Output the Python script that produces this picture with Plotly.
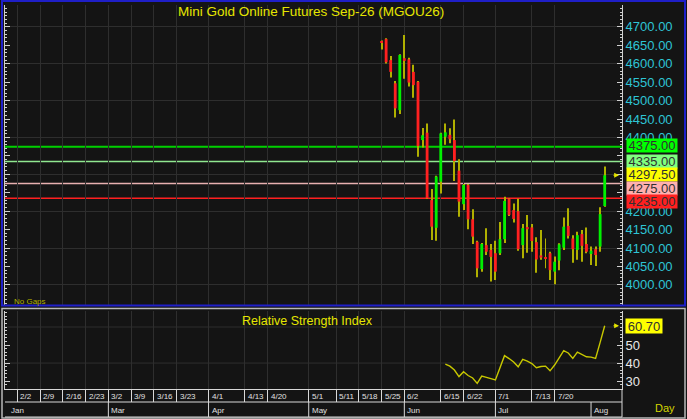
import pandas as pd
import plotly.graph_objects as go

# session calendar (x axis slots, "No Gaps" mode)
first_day = "2026-01-28"
last_day = "2026-08-14"
closed_days = ["2026-06-01", "2026-06-12", "2026-07-24", "2026-07-31"]

# daily OHLC, first bar on candle_start
candle_start = "2026-05-25"
opens = [4660, 4667, 4610, 4547, 4474, 4615, 4612, 4578, 4551, 4393,
         4413, 4230, 4155, 4280, 4402, 4407, 4393, 4310, 4219, 4271,
         4178, 4117, 4043, 4108, 4095, 4086, 4086, 4124, 4234, 4203,
         4200, 4108, 4157, 4156, 4116, 4080, 4075, 4086, 4036, 4066,
         4101, 4160, 4126, 4095, 4138, 4111, 4084, 4097, 4104, 4214]
highs = [4663, 4669, 4621, 4553, 4626, 4678, 4616, 4597, 4553, 4426,
         4438, 4260, 4296, 4413, 4438, 4425, 4449, 4341, 4274, 4274,
         4205, 4120, 4114, 4154, 4111, 4120, 4171, 4239, 4236, 4221,
         4234, 4165, 4190, 4165, 4129, 4149, 4126, 4090, 4077, 4113,
         4183, 4208, 4135, 4144, 4149, 4156, 4104, 4104, 4211, 4321]
lows = [4639, 4601, 4563, 4454, 4464, 4559, 4538, 4508, 4348, 4373,
        4233, 4122, 4120, 4248, 4380, 4384, 4282, 4185, 4203, 4151,
        4111, 4021, 4036, 4081, 4009, 4013, 4081, 4114, 4187, 4169,
        4093, 4072, 4087, 4090, 4033, 4068, 4045, 4013, 4002, 4040,
        4095, 4126, 4060, 4068, 4063, 4086, 4054, 4051, 4090, 4212]
closes = [4657, 4604, 4578, 4479, 4624, 4608, 4549, 4542, 4377, 4406,
          4235, 4158, 4294, 4411, 4414, 4395, 4336, 4226, 4271, 4178,
          4131, 4045, 4111, 4090, 4076, 4036, 4124, 4228, 4190, 4179,
          4097, 4154, 4151, 4119, 4069, 4074, 4072, 4040, 4063, 4110,
          4158, 4133, 4097, 4135, 4106, 4090, 4093, 4081, 4192, 4297.5]

# RSI for the last bars
rsi = [39.4, 38.3, 36.1, 32.5, 35.2, 33.1, 31.7, 28.7, 32.8, 31.9,
       31.4, 30.6, 37.2, 44.1, 42.5, 40.6, 37.9, 42.1, 41.1, 39.7,
       37.4, 38.1, 38.3, 35.7, 38.9, 42.8, 46.9, 45.6, 42.6, 46.1,
       44.6, 43.5, 43.3, 42.6, 51.5, 60.7]

levels = [4375, 4335, 4275, 4235]

price_ticks = list(range(4000, 4701, 50))
rsi_ticks = [30, 40, 50]
week_ticks = ["2026-02-02", "2026-02-09", "2026-02-16", "2026-02-23", "2026-03-02",
              "2026-03-09", "2026-03-16", "2026-03-23", "2026-04-01", "2026-04-13",
              "2026-04-20", "2026-05-01", "2026-05-11", "2026-05-18", "2026-05-25",
              "2026-06-02", "2026-06-15", "2026-06-22", "2026-07-01", "2026-07-13",
              "2026-07-20"]
month_ticks = ["2026-01-29", "2026-03-02", "2026-04-01", "2026-05-01",
               "2026-06-02", "2026-07-01", "2026-08-03"]
month_names = ["Jan", "Mar", "Apr", "May", "Jun", "Jul", "Aug"]

# ---- styles
W, H = 687, 419
ML, MR, MT, MB = 5, 65, 5, 30
FONT = "Liberation Sans, Arial, sans-serif"
bg = "#141414"
grid = "#2e2e2e"
up, down, wick = "#00f000", "#ff2020", "#b0b000"
level_line = ["#00d000", "#90e890", "#e8b0b0", "#ff2020"]
level_width = [2, 1.5, 1.5, 1.5]
level_box = ["#00ff00", "#80ff80", "#ffb0b0", "#ff2020"]
yellow = "#e6e600"
white = "#d8d8d8"


def fx(px):
    return (px - ML) / (W - ML - MR)


def fy(py):
    return (H - MB - py) / (H - MT - MB)


sessions = [d.strftime("%Y-%m-%d") for d in pd.bdate_range(first_day, last_day)
            if d.strftime("%Y-%m-%d") not in closed_days]
i0 = sessions.index(candle_start)
dates = sessions[i0:i0 + len(opens)]
rsi_dates = dates[-len(rsi):]
xr = [0.3, 135.8]
price_range = [3945.5, 4759.4]
rsi_range = [25.6, 68.9]

fig = go.Figure()
# wicks on the grid axis, bodies on the overlaid label axis (drawn on top)
fig.add_trace(go.Bar(
    x=dates, y=[h - l for h, l in zip(highs, lows)], base=lows, width=0.22,
    marker=dict(color=wick, line_width=0), hoverinfo="skip"))
fig.add_trace(go.Bar(
    x=dates, y=[max(abs(c - o), 1) for o, c in zip(opens, closes)],
    base=[min(o, c) for o, c in zip(opens, closes)], width=0.62,
    marker=dict(color=[up if c >= o else down for o, c in zip(opens, closes)], line_width=0),
    yaxis="y3", hoverinfo="skip"))
fig.add_trace(go.Scatter(
    x=rsi_dates, y=rsi, mode="lines", line=dict(color="#c8c800", width=1.4),
    xaxis="x2", yaxis="y2", hoverinfo="skip"))

shapes = []
for lv, col, lw in zip(levels, level_line, level_width):
    shapes.append(dict(type="line", xref="paper", x0=0, x1=1, yref="y", y0=lv, y1=lv,
                       line=dict(color=col, width=lw), layer="between"))
for g in (40, 60):
    shapes.append(dict(type="line", xref="paper", x0=0, x1=1, yref="y2", y0=g, y1=g,
                       line=dict(color=grid, width=1), layer="between"))


def label(text, x, y, size, color, xanchor="center"):
    return dict(text=text, xref="paper", yref="paper", x=fx(x), y=fy(y), xanchor=xanchor,
                yanchor="middle", showarrow=False, font=dict(color=color, size=size))


annotations = [
    label("Mini Gold Online Futures Sep-26 (MGOU26)", 311, 12, 13.5, yellow),
    label("Relative Strength Index", 307, 321, 12.5, yellow),
    label("No Gaps", 12, 301, 8, "#b0b000", "left"),
    label("Day", 665, 408, 11, "#d4d400"),
]

box_values = levels[:2] + [closes[-1]] + levels[2:]
box_colors = level_box[:2] + ["#ffff00"] + level_box[2:]
box_shift = [1, 0, 0.5, -4.5, -3]
for v, col, sh in zip(box_values, box_colors, box_shift):
    annotations.append(dict(text=f"{v:.2f}", xref="paper", x=1, xanchor="left", xshift=4,
                            yref="y", y=v, yanchor="middle", yshift=sh, showarrow=False,
                            bgcolor=col, borderpad=0, width=50, height=12.5,
                            font=dict(color="#303030", size=13)))
annotations.append(dict(text=f"{rsi[-1]:.2f}", xref="paper", x=1, xanchor="left", xshift=3,
                        yref="y2", y=rsi[-1], yanchor="middle", showarrow=False,
                        bgcolor="#ffff00", borderpad=0, width=36, height=14,
                        font=dict(color="#303030", size=13)))
for yref, v in (("y", closes[-1]), ("y2", rsi[-1])):
    annotations.append(dict(text="", xref="paper", x=fx(619), yref=yref, y=v,
                            showarrow=True, ax=-7, ay=0, arrowhead=2, arrowsize=0.8,
                            arrowwidth=1.2, arrowcolor=yellow))

# axis labels that sit fully behind a value box are left blank
price_text = ["" if any(abs(t - v) < 20 for v in box_values) else f"{t:.2f}"
              for t in price_ticks]

for d in week_ticks:
    m, dd = int(d[5:7]), int(d[8:10])
    annotations.append(dict(text=f"{m}/{dd}", xref="x2", x=d, xanchor="left", xshift=1,
                            yref="paper", y=fy(396), yanchor="middle", showarrow=False,
                            font=dict(color="#e0e0e0", size=8)))
for d, name in zip(month_ticks, month_names):
    annotations.append(dict(text=name, xref="x2", x=d, xanchor="left", xshift=1,
                            yref="paper", y=fy(410), yanchor="middle", showarrow=False,
                            font=dict(color="#e0e0e0", size=8)))
    if name != "Jan":
        shapes.append(dict(type="line", xref="x2", x0=d, x1=d, yref="paper",
                           y0=fy(402), y1=fy(417), line=dict(color=white, width=1)))

# frames and date rows
shapes += [
    dict(type="rect", xref="paper", yref="paper", x0=fx(2), x1=fx(685), y0=fy(305.5), y1=fy(1),
         line=dict(color="#1f1fc8", width=2)),
    dict(type="rect", xref="paper", yref="paper", x0=fx(2), x1=fx(685), y0=fy(418), y1=fy(308.5),
         line=dict(color="#b8b8b8", width=1.5)),
    dict(type="line", xref="paper", yref="paper", x0=0, x1=1, y0=fy(402), y1=fy(402),
         line=dict(color=white, width=1)),
    dict(type="line", xref="paper", yref="paper", x0=0, x1=1, y0=fy(417), y1=fy(417),
         line=dict(color=white, width=1)),
    dict(type="line", xref="paper", yref="paper", x0=1, x1=1, y0=fy(389), y1=fy(417),
         line=dict(color=white, width=1)),
]

xcommon = dict(type="category", categoryorder="array", categoryarray=sessions, range=xr,
               tickvals=week_ticks, showticklabels=False, showgrid=True, gridcolor=grid,
               zeroline=False)
tickstyle = dict(ticks="inside", ticklen=5, tickcolor="#d0d0d0", showline=True,
                 linecolor="#d0d0d0", mirror="ticks", showgrid=False, zeroline=False)

fig.update_layout(
    width=W, height=H, margin=dict(l=ML, r=MR, t=MT, b=MB),
    paper_bgcolor=bg, plot_bgcolor=bg, showlegend=False,
    barmode="overlay", font=dict(family=FONT),
    xaxis=dict(xcommon, anchor="y", matches="x2", ticks=""),
    xaxis2=dict(xcommon, anchor="y2", ticks="outside", ticklen=12, tickcolor=white,
                showline=True, linecolor=white),
    yaxis=dict(domain=[fy(305), 1], range=price_range, anchor="x", side="right",
               dtick=100, tick0=0, showgrid=True, gridcolor=grid, showticklabels=False,
               ticks="", zeroline=False),
    yaxis3=dict(tickstyle, overlaying="y", anchor="x", side="right", range=price_range,
                tickvals=price_ticks, ticktext=price_text,
                minor=dict(dtick=10, tick0=0, ticks="inside", ticklen=2, tickcolor="#d0d0d0"),
                tickfont=dict(color="#2ec4d4", size=13)),
    yaxis2=dict(tickstyle, domain=[0, fy(311)], range=rsi_range, anchor="x2", side="right",
                tickvals=rsi_ticks,
                minor=dict(dtick=2, tick0=0, ticks="inside", ticklen=2, tickcolor="#d0d0d0"),
                tickfont=dict(color="#e8e8e8", size=13)),
    shapes=shapes, annotations=annotations,
)

# the page is photographed at the figure's own size, so drop the body margin
fig.write_html("out.html", config={"displayModeBar": False},
               post_script="document.body.style.margin = '0';")
